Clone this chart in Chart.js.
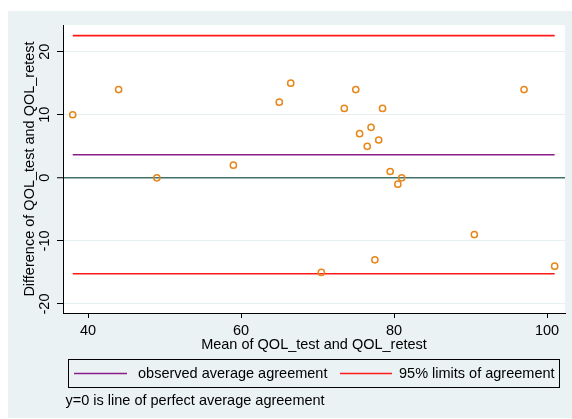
<!DOCTYPE html>
<html>
<head>
<meta charset="utf-8">
<script src="https://cdn.jsdelivr.net/npm/chart.js@4.4.0/dist/chart.umd.min.js"></script>
<style>
  html, body { margin: 0; padding: 0; background: #fff; }
</style>
</head>
<body>
<canvas id="baChart" width="572" height="419"></canvas>
<script>
// Bland-Altman data: mean of test/retest (x) and difference (y)
const meanScores = [38, 44, 49, 59, 65, 66.5, 70.5, 73.5, 75, 75.5, 76.5, 77, 77.5, 78, 78.5, 79.5, 80.5, 81, 90.5, 97, 101];
const diffScores = [10, 14, 0, 2, 12, 15, -15, 11, 14, 7, 5, 8, -13, 6, 11, 1, -1, 0, -9, 14, -14];

const meanDiff = 3.67;
const lowerLimit = -15.2;
const upperLimit = 22.55;

const xTicks = [40, 60, 80, 100];
const yTicks = [-20, -10, 0, 10, 20];
const xRange = [36.73, 102.35];
const yRange = [-21.43, 24.23];

const FONT = "'Liberation Sans', Arial, sans-serif";
Chart.defaults.font.family = FONT;
Chart.defaults.font.size = 14.5;
Chart.defaults.color = "#000";

const xLo = Math.min(...meanScores);
const xHi = Math.max(...meanScores);

// Horizontal reference line across the observed x range
function hLine(label, value, color) {
    return {
        label: label,
        data: [{ x: xLo, y: value }, { x: xHi, y: value }],
        showLine: true,
        borderColor: color,
        borderWidth: 1.6,
        pointRadius: 0
    };
}

// Stata-like background: light blue graph region, white plot region
const backgroundPlugin = {
    id: "background",
    beforeDraw(chart) {
        const { ctx, chartArea: a } = chart;
        ctx.save();
        ctx.fillStyle = "#fff";
        ctx.fillRect(0, 0, chart.width, chart.height);
        ctx.fillStyle = "#eaf2f3";
        ctx.fillRect(8, 11, chart.width - 8, chart.height - 12);
        ctx.fillStyle = "#fff";
        ctx.fillRect(a.left, a.top, a.right - a.left, a.bottom - a.top);
        ctx.restore();
    }
};

// Boxed legend below the axis plus the note line
const legendPlugin = {
    id: "boxLegend",
    afterDraw(chart) {
        const ctx = chart.ctx;
        const ds = chart.data.datasets;
        ctx.save();
        ctx.strokeStyle = "#000";
        ctx.lineWidth = 1;
        ctx.strokeRect(68.5, 359.5, 491, 28);

        ctx.font = "14.5px " + FONT;
        ctx.fillStyle = "#000";
        ctx.textBaseline = "middle";
        const items = [
            { ds: ds[1], x0: 74, x1: 127, tx: 138 },
            { ds: ds[2], x0: 340, x1: 392, tx: 399 }
        ];
        items.forEach(it => {
            ctx.strokeStyle = it.ds.borderColor;
            ctx.lineWidth = 1.6;
            ctx.beginPath();
            ctx.moveTo(it.x0, 373.5);
            ctx.lineTo(it.x1, 373.5);
            ctx.stroke();
            ctx.fillText(it.ds.label, it.tx, 374);
        });
        ctx.fillText("y=0 is line of perfect average agreement", 65.5, 401);
        ctx.restore();
    }
};

new Chart(document.getElementById("baChart"), {
    type: "scatter",
    data: {
        datasets: [
            {
                label: "difference",
                data: meanScores.map((m, i) => ({ x: m, y: diffScores[i] })),
                pointStyle: "circle",
                pointRadius: 3.1,
                borderColor: "#e8861a",
                backgroundColor: "rgba(0,0,0,0)",
                borderWidth: 1.5
            },
            hLine("observed average agreement", meanDiff, "#8b1c8b"),
            hLine("95% limits of agreement", upperLimit, "#ff1a1a"),
            hLine("95% limits of agreement", lowerLimit, "#ff1a1a")
        ]
    },
    options: {
        responsive: false,
        animation: false,
        devicePixelRatio: 1,
        layout: { padding: { left: 8, top: 25, right: 7, bottom: 65.5 } },
        plugins: {
            legend: { display: false },
            tooltip: { enabled: false }
        },
        scales: {
            x: {
                type: "linear",
                min: xRange[0],
                max: xRange[1],
                afterBuildTicks: s => { s.ticks = xTicks.map(v => ({ value: v })); },
                afterFit: s => { s.height = 40.5; },
                grid: { drawOnChartArea: false, tickLength: 5, tickColor: "#000" },
                border: { color: "#000", width: 1 },
                ticks: { padding: 4.5 },
                title: { display: true, text: "Mean of QOL_test and QOL_retest", padding: 0 }
            },
            y: {
                type: "linear",
                min: yRange[0],
                max: yRange[1],
                afterBuildTicks: s => { s.ticks = yTicks.map(v => ({ value: v })); },
                afterFit: s => { s.width = 55; },
                grid: {
                    color: c => (c.tick && c.tick.value === 0 ? "#42716b" : "#e6eff1"),
                    lineWidth: c => (c.tick && c.tick.value === 0 ? 1.5 : 1),
                    tickColor: "#000",
                    tickWidth: 1,
                    tickLength: 6
                },
                border: { color: "#000", width: 1 },
                ticks: { minRotation: 90, maxRotation: 90, crossAlign: "center", padding: 1.5 },
                title: {
                    display: true,
                    text: "Difference of QOL_test and QOL_retest",
                    padding: { top: 13, bottom: 0 }
                }
            }
        }
    },
    plugins: [backgroundPlugin, legendPlugin]
});
</script>
</body>
</html>
